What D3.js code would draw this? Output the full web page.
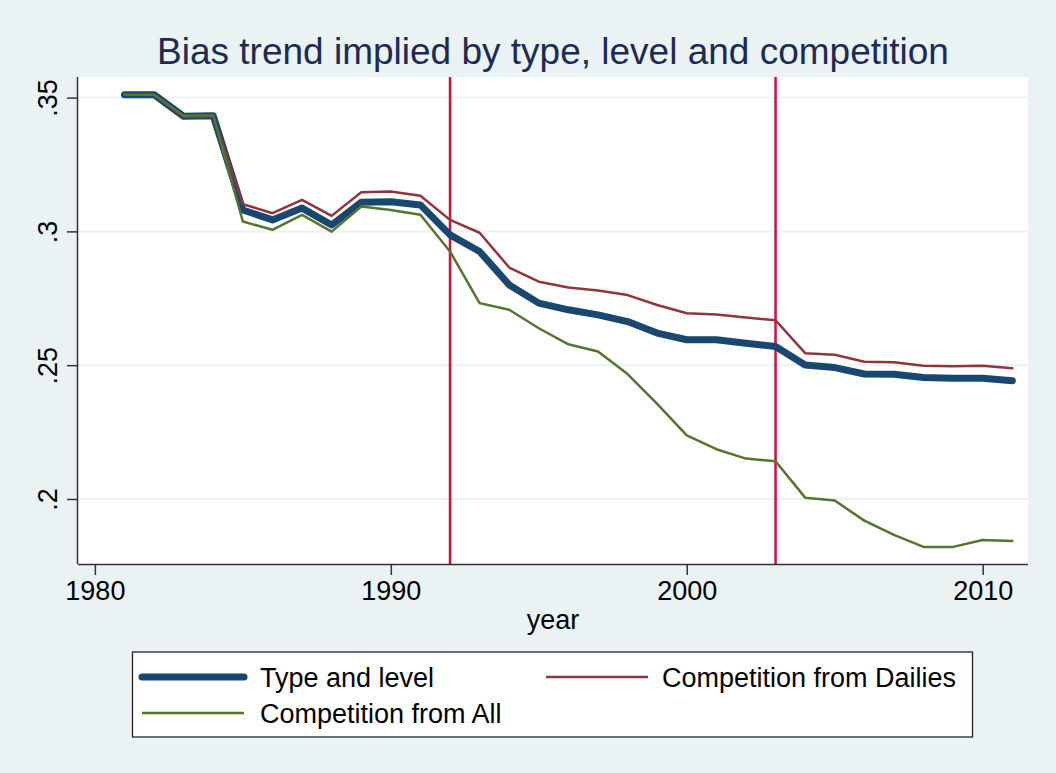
<!DOCTYPE html>
<html>
<head>
<meta charset="utf-8">
<script src="https://cdn.jsdelivr.net/npm/d3@7"></script>
<style>
  html, body { margin: 0; padding: 0; background: #eaf2f3; }
  svg { display: block; font-family: "Liberation Sans", Arial, sans-serif; }
</style>
</head>
<body>
<svg id="chart"></svg>
<script>
// years and the three estimated bias series
let years = d3.range(1981, 2012);

let typeLevel = [
    0.3511, 0.3511, 0.3430, 0.3432, 0.3080, 0.3043, 0.3087, 0.3024, 0.3109, 0.3111,
    0.3099, 0.2987, 0.2925, 0.2800, 0.2732, 0.2707, 0.2688, 0.2663, 0.2620, 0.2595,
    0.2595, 0.2582, 0.2570, 0.2501, 0.2491, 0.2467, 0.2466, 0.2454, 0.2451, 0.2451,
    0.2442
];

let compDailies = [
    0.3511, 0.3511, 0.3428, 0.3430, 0.3102, 0.3068, 0.3118, 0.3058, 0.3146, 0.3149,
    0.3133, 0.3043, 0.2995, 0.2865, 0.2812, 0.2790, 0.2779, 0.2762, 0.2725, 0.2694,
    0.2689, 0.2678, 0.2668, 0.2545, 0.2539, 0.2513, 0.2511, 0.2498, 0.2496, 0.2498,
    0.2489
];

let compAll = [
    0.3511, 0.3511, 0.3432, 0.3434, 0.3037, 0.3006, 0.3062, 0.2999, 0.3093, 0.3080,
    0.3062, 0.2925, 0.2732, 0.2707, 0.2638, 0.2578, 0.2551, 0.2467, 0.2355, 0.2238,
    0.2186, 0.2151, 0.2141, 0.2005, 0.1994, 0.1919, 0.1866, 0.1821, 0.1821, 0.1847,
    0.1843
];

let seriesNames = ["Type and level", "Competition from Dailies", "Competition from All"];
let xTicks = [1980, 1990, 2000, 2010];
let yTicks = [0.2, 0.25, 0.3, 0.35];
let yTickLabels = [".2", ".25", ".3", ".35"];
let markerYears = [1992, 2003];

function makeChart() {
    let w = 1056;
    let h = 773;

    let svg = d3.select("#chart")
        .attr("width", w)
        .attr("height", h);

    svg.append("rect")
        .attr("width", w)
        .attr("height", h)
        .attr("fill", "#eaf2f3");

    // plot region
    let left = 78, right = 1028, top = 77, bottom = 564;

    let x = d3.scaleLinear()
        .domain([1979.43, 2011.53])
        .range([left, right]);

    let y = d3.scaleLinear()
        .domain([0.1757, 0.3577])
        .range([bottom, top]);

    svg.append("rect")
        .attr("x", left)
        .attr("y", top)
        .attr("width", right - left)
        .attr("height", bottom - top)
        .attr("fill", "white");

    // grid
    svg.append("g")
        .selectAll("line")
        .data(yTicks)
        .enter()
        .append("line")
            .attr("x1", left)
            .attr("x2", right)
            .attr("y1", d => y(d))
            .attr("y2", d => y(d))
            .style("stroke", "#eaf2f3")
            .style("stroke-width", 2);

    // vertical marker lines
    svg.append("g")
        .selectAll("line")
        .data(markerYears)
        .enter()
        .append("line")
            .attr("x1", d => x(d))
            .attr("x2", d => x(d))
            .attr("y1", top)
            .attr("y2", bottom)
            .style("stroke", "#d0103a")
            .style("stroke-width", 2.5);

    // axes
    let xAxis = svg.append("g")
        .attr("transform", `translate(0,${bottom})`)
        .call(d3.axisBottom(x)
            .tickValues(xTicks)
            .tickFormat(d3.format("d"))
            .tickSize(11)
            .tickPadding(6));

    xAxis.attr("font-family", null).attr("font-size", null);
    xAxis.select(".domain")
        .attr("d", `M${left},0.5H${right}`)
        .style("stroke", "#333")
        .style("stroke-width", 1.5);
    xAxis.selectAll(".tick line").style("stroke", "#333").style("stroke-width", 1.5);
    xAxis.selectAll(".tick text")
        .style("font-size", "27px")
        .style("fill", "#000");

    let yAxis = svg.append("g")
        .attr("transform", `translate(${left},0)`)
        .call(d3.axisLeft(y)
            .tickValues(yTicks)
            .tickFormat((d, i) => yTickLabels[i])
            .tickSize(11));

    yAxis.attr("font-family", null).attr("font-size", null);
    yAxis.select(".domain")
        .attr("d", `M-0.5,${top}V${bottom}`)
        .style("stroke", "#333")
        .style("stroke-width", 1.5);
    yAxis.selectAll(".tick line").style("stroke", "#333").style("stroke-width", 1.5);
    yAxis.selectAll(".tick text")
        .attr("x", null)
        .attr("dy", null)
        .attr("transform", "translate(-21,0) rotate(-90)")
        .style("text-anchor", "middle")
        .style("font-size", "27px")
        .style("fill", "#000");

    // lines
    let series = [
        { name: seriesNames[0], values: typeLevel, color: "#1a476f", width: 7 },
        { name: seriesNames[1], values: compDailies, color: "#90353b", width: 2.5 },
        { name: seriesNames[2], values: compAll, color: "#55752f", width: 2.5 }
    ];

    let line = d3.line()
        .x((d, i) => x(years[i]))
        .y(d => y(d));

    svg.append("g")
        .selectAll("path")
        .data(series)
        .enter()
        .append("path")
            .attr("d", d => line(d.values))
            .style("fill", "none")
            .style("stroke", d => d.color)
            .style("stroke-width", d => d.width)
            .style("stroke-linejoin", "round")
            .style("stroke-linecap", "round");

    // title and axis label
    svg.append("text")
        .attr("x", (left + right) / 2)
        .attr("y", 64)
        .attr("text-anchor", "middle")
        .style("font-size", "37px")
        .style("fill", "#1c2b52")
        .text("Bias trend implied by type, level and competition");

    svg.append("text")
        .attr("x", (left + right) / 2)
        .attr("y", 629)
        .attr("text-anchor", "middle")
        .style("font-size", "27px")
        .style("fill", "#000")
        .text("year");

    // legend
    let legend = svg.append("g");
    legend.append("rect")
        .attr("x", 132.5)
        .attr("y", 652)
        .attr("width", 840)
        .attr("height", 85)
        .style("fill", "white")
        .style("stroke", "#222")
        .style("stroke-width", 1.3);

    let legendPos = [
        { x: 142, y: 677 },
        { x: 546, y: 677 },
        { x: 142, y: 713 }
    ];

    let items = legend.selectAll("g.item")
        .data(series)
        .enter()
        .append("g")
        .attr("class", "item")
        .attr("transform", (d, i) => `translate(${legendPos[i].x},${legendPos[i].y})`);

    items.append("line")
        .attr("x1", 0)
        .attr("x2", 102)
        .style("stroke", d => d.color)
        .style("stroke-width", d => d.width)
        .style("stroke-linecap", d => d.width > 5 ? "round" : "butt");

    items.append("text")
        .attr("x", (d, i) => i == 1 ? 116 : 118)
        .attr("y", 10)
        .style("font-size", "27px")
        .style("fill", "#000")
        .text(d => d.name);
}

window.onload = function() {
    makeChart();
}
</script>
</body>
</html>
